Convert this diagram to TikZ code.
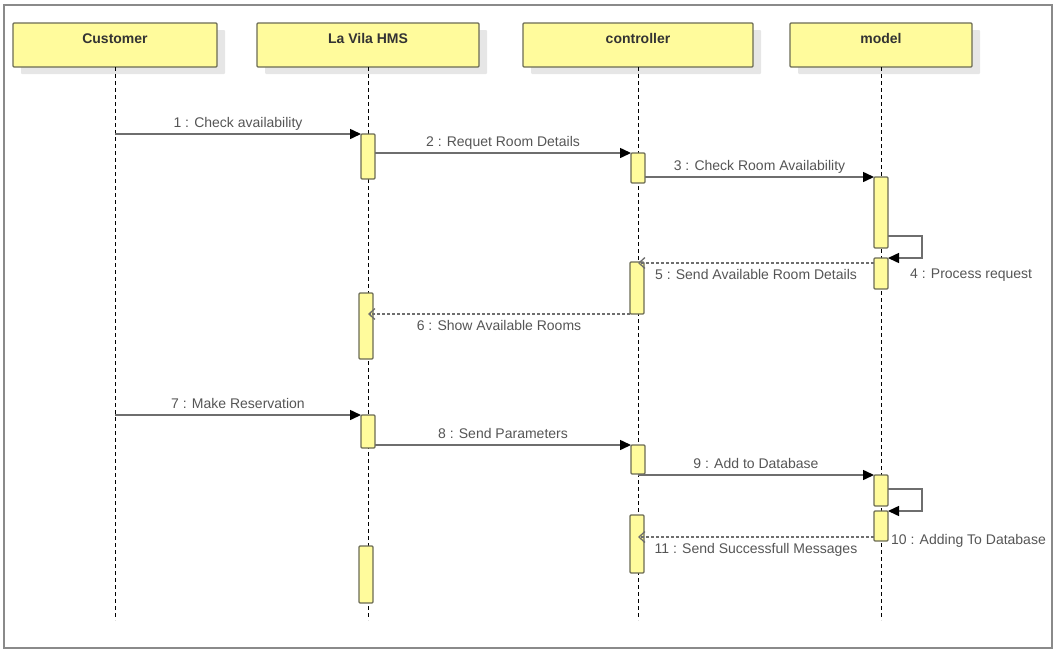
\documentclass[tikz,border=0pt]{standalone}
\usepackage{fontspec}
\setmainfont{Liberation Sans}
\usetikzlibrary{arrows.meta,shadows}

\definecolor{boxfill}{HTML}{FFFB9C}
\definecolor{boxline}{HTML}{6B6B55}
\definecolor{shadowgray}{HTML}{E6E6E6}
\definecolor{headtext}{HTML}{333333}
\definecolor{msgtext}{HTML}{555555}
\definecolor{msgline}{HTML}{6E6E6E}
\definecolor{framecol}{HTML}{8A8A8A}

\tikzset{
  header/.style={draw=boxline, fill=boxfill, line width=1.3pt, rounded corners=1pt,
    minimum height=44pt, inner ysep=4pt, text height=16pt, text depth=20pt,
    outer sep=0pt, text=headtext, font=\fontsize{14}{16}\selectfont\bfseries,
    drop shadow={shadow xshift=8pt, shadow yshift=-7pt, fill=shadowgray, opacity=1}},
  lifeline/.style={draw=black, line width=1pt, dash pattern=on 4pt off 3pt},
  actbar/.style={draw=boxline, fill=boxfill, line width=1.2pt, rounded corners=1pt,
    minimum width=14pt, inner sep=0pt, outer sep=0pt, anchor=north},
  msg/.style={draw=msgline, line width=1.5pt,
    -{Triangle[length=11pt,width=10pt,color=black]}},
  ret/.style={draw=msgline, line width=1.3pt, dash pattern=on 3pt off 2pt,
    -{Straight Barb[length=6pt,width=11pt]}},
  lbl/.style={text=msgtext, font=\fontsize{14}{16}\selectfont, inner sep=3pt,
    text height=10pt, text depth=3pt},
}

\begin{document}
\begin{tikzpicture}[x=1pt, y=-1pt]
  \useasboundingbox (0,0) rectangle (1057,651);
  \draw[framecol, line width=2pt] (4,5) rectangle (1052,648);

  % participants
  \node[header, minimum width=204pt] (cust)  at (115,45) {Customer};
  \node[header, minimum width=222pt] (hms)   at (368,45) {La Vila HMS};
  \node[header, minimum width=230pt] (ctrl)  at (638,45) {controller};
  \node[header, minimum width=182pt] (model) at (881,45) {model};

  % lifelines
  \coordinate (custEnd)  at (cust.south  |- 0,620);
  \coordinate (hmsEnd)   at (hms.south   |- 0,620);
  \coordinate (ctrlEnd)  at (ctrl.south  |- 0,620);
  \coordinate (modelEnd) at (model.south |- 0,620);
  \draw[lifeline] (cust)  -- (custEnd);
  \draw[lifeline] (hms)   -- (hmsEnd);
  \draw[lifeline] (ctrl)  -- (ctrlEnd);
  \draw[lifeline] (model) -- (modelEnd);

  % activation bars
  \node[actbar, minimum height=45pt] (h1) at (368,134) {};
  \node[actbar, minimum height=30pt] (c1) at (638,153) {};
  \node[actbar, minimum height=71pt] (m1) at (881,177) {};
  \node[actbar, minimum height=31pt] (m2) at (881,258) {};
  \node[actbar, minimum height=52pt] (c2) at (637,262) {};
  \node[actbar, minimum height=66pt] (h2) at (366,293) {};
  \node[actbar, minimum height=33pt] (h3) at (368,415) {};
  \node[actbar, minimum height=29pt] (c3) at (638,445) {};
  \node[actbar, minimum height=31pt] (m3) at (881,475) {};
  \node[actbar, minimum height=30pt] (m4) at (881,511) {};
  \node[actbar, minimum height=58pt] (c4) at (637,515) {};
  \node[actbar, minimum height=57pt] (h4) at (366,546) {};

  % first scenario: availability check
  \draw[msg] (cust |- h1.north) -- node[lbl, above] {1 : Check availability} (h1.north west);
  \draw[msg] (h1.east |- c1.north) -- node[lbl, above] {2 : Requet Room Details} (c1.north west);
  \draw[msg] (c1.east |- m1.north) -- node[lbl, above] {3 : Check Room Availability} (m1.north west);
  \coordinate (s4) at (922,236);
  \draw[msg] (m1.east |- s4) -- (s4) |- (m2.north east);
  \node[lbl, anchor=base west, inner sep=0pt] (l4) at (910,278) {4 : Process request};
  \draw[ret] (m2.west |- 0,263) -- node[lbl, below=3pt] {5 : Send Available Room Details} (ctrl |- 0,263);
  \draw[ret] (c2.south west) -- node[lbl, below=3pt] {6 : Show Available Rooms} (hms |- c2.south);

  % second scenario: reservation
  \draw[msg] (cust |- h3.north) -- node[lbl, above] {7 : Make Reservation} (h3.north west);
  \draw[msg] (h3.east |- c3.north) -- node[lbl, above] {8 : Send Parameters} (c3.north west);
  \draw[msg] (ctrl |- m3.north) -- node[lbl, above] {9 : Add to Database} (m3.north west);
  \coordinate (s10) at (922,489);
  \draw[msg] (m3.east |- s10) -- (s10) |- (m4.north east);
  \node[lbl, anchor=base west, inner sep=0pt] (l10) at (891,544) {10 : Adding To Database};
  \draw[ret] (m4.west |- 0,537) -- node[lbl, below=3pt] {11 : Send Successfull Messages} (ctrl |- 0,537);
\end{tikzpicture}
\end{document}
